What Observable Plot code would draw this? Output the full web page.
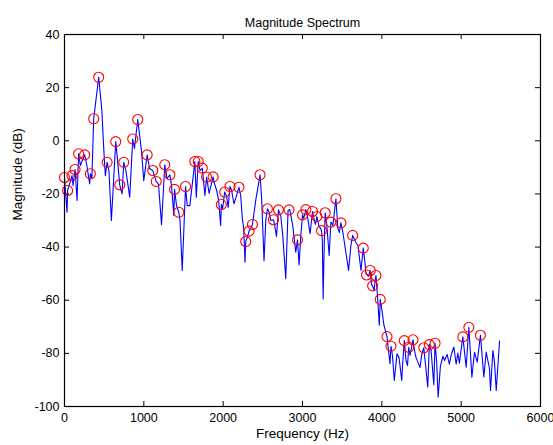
<!DOCTYPE html>
<html>
<head>
<meta charset="utf-8">
<script src="https://cdn.jsdelivr.net/npm/d3@7"></script>
<script src="https://cdn.jsdelivr.net/npm/@observablehq/plot@0.6"></script>
<style>
  html, body { margin: 0; padding: 0; background: #ffffff; }
</style>
</head>
<body>
<div id="chart"></div>
<script>
// Spectrum line: frequency (Hz) and magnitude (dB)
const freq = [0,32,39,95,107,133,158,178,200,254,282,317,326,345,368,431,471,496,515,537,560,591,646,663,696,726,747,774,822,860,882,923,970,999,1042,1071,1113,1156,1185,1223,1264,1292,1328,1349,1378,1387,1412,1441,1456,1484,1526,1547,1580,1643,1661,1686,1709,1737,1770,1791,1823,1873,1886,1918,1943,1968,1977,1993,2019,2044,2063,2086,2107,2136,2158,2199,2221,2242,2259,2275,2284,2309,2326,2347,2369,2410,2465,2486,2515,2537,2558,2581,2600,2634,2650,2672,2697,2726,2751,2789,2818,2840,2877,2915,2937,2957,2979,3000,3016,3042,3061,3080,3096,3126,3143,3162,3181,3206,3240,3250,3260,3275,3286,3307,3336,3358,3383,3421,3446,3465,3484,3509,3581,3610,3632,3673,3699,3737,3766,3787,3800,3831,3854,3869,3884,3901,3926,3945,3968,3980,4002,4027,4065,4084,4103,4115,4134,4157,4191,4217,4251,4261,4283,4305,4324,4339,4355,4393,4412,4431,4456,4482,4501,4529,4545,4579,4599,4621,4655,4671,4690,4710,4738,4769,4791,4823,4852,4873,4908,4937,4958,4978,5021,5063,5097,5135,5168,5202,5243,5286,5315,5357,5370,5400,5420,5442,5484];
const magnitude = [-13.8,-26.9,-18.7,-13.1,-16.8,-10.8,-22.5,-4.9,-9.3,-5.3,-9.3,-16.2,-12.4,-14.2,8.3,23.9,11.4,-3.7,-13.1,-8.1,-11.2,-30.0,-0.3,-5.5,-16.6,-20.0,-8.1,-11.2,-21.2,0.7,-2.9,8.0,-3.7,-15.0,-5.3,-10.4,-11.2,-15.3,-16.4,-31.6,-9.0,-14.2,-12.8,-16.8,-28.1,-18.3,-24.4,-26.9,-30.0,-48.8,-17.2,-24.4,-24.4,-7.8,-21.2,-7.8,-11.2,-10.3,-20.6,-13.7,-19.8,-13.6,-15.7,-18.7,-22.5,-31.9,-24.0,-25.5,-19.3,-21.0,-25.1,-17.2,-18.7,-23.7,-21.7,-17.5,-20.6,-29.4,-33.0,-45.7,-37.9,-36.0,-34.0,-33.0,-31.5,-22.5,-12.8,-22.5,-45.1,-30.0,-25.6,-27.0,-30.0,-29.7,-31.9,-36.0,-26.0,-28.1,-35.6,-51.9,-26.2,-25.9,-31.9,-41.9,-37.3,-46.7,-35.6,-27.9,-29.2,-25.9,-28.1,-31.9,-35.0,-26.6,-29.2,-31.5,-28.5,-31.9,-33.8,-37.5,-59.5,-37.5,-27.1,-31.9,-43.2,-30.6,-31.9,-21.8,-33.0,-34.5,-30.9,-34.5,-48.8,-39.4,-35.6,-38.3,-39.4,-48.8,-40.4,-45.8,-49.9,-51.0,-48.8,-54.1,-54.6,-56.3,-50.7,-58.2,-69.4,-59.7,-63.9,-69.5,-73.7,-78.9,-83.9,-77.3,-80.8,-90.2,-80.2,-81.6,-90.2,-84.6,-75.2,-82.7,-84.6,-77.7,-80.8,-74.9,-78.9,-81.6,-83.4,-85.3,-80.8,-77.9,-82.7,-92.7,-76.7,-78.9,-91.8,-76.2,-82.7,-96.5,-84.9,-81.1,-82.7,-80.4,-84.1,-80.7,-77.6,-84.1,-79.9,-83.7,-73.8,-85.2,-70.2,-89.0,-79.6,-83.3,-73.2,-88.9,-79.5,-85.7,-94.0,-78.9,-83.3,-94.0,-75.4];

// Detected peaks (red circles)
const peakFreq = [0,39,95,133,178,254,326,368,431,537,646,696,747,860,923,1042,1113,1156,1264,1328,1387,1441,1526,1643,1686,1737,1791,1873,1977,2019,2086,2199,2284,2326,2369,2465,2558,2634,2697,2830,2937,3000,3042,3126,3181,3240,3286,3358,3421,3484,3632,3766,3807,3854,3884,3926,3980,4065,4115,4283,4339,4393,4529,4599,4671,5021,5097,5243];
const peakMag = [-13.8,-18.7,-13.1,-10.8,-4.9,-5.3,-12.4,8.3,23.9,-8.1,-0.3,-16.6,-8.1,0.7,8.0,-5.3,-11.2,-15.3,-9.0,-12.8,-18.3,-26.9,-17.2,-7.8,-7.8,-10.3,-13.7,-13.6,-24.0,-19.3,-17.2,-17.5,-37.9,-34.0,-31.5,-12.8,-25.6,-29.7,-26.0,-26.0,-37.3,-27.9,-25.9,-26.6,-28.5,-33.8,-27.1,-30.6,-21.8,-30.9,-35.6,-40.4,-50.5,-48.8,-54.6,-50.7,-59.7,-73.7,-77.3,-75.2,-77.7,-74.9,-77.9,-76.7,-76.2,-73.8,-70.2,-73.2];

const xTicks = [0,1000,2000,3000,4000,5000,6000];
const yTicks = [-100,-80,-60,-40,-20,0,20,40];
const titleText = "Magnitude Spectrum";
const xLabel = "Frequency (Hz)";
const yLabel = "Magnitude (dB)";

const spectrum = freq.map((f, i) => ({f, m: magnitude[i]}));
const peaks = peakFreq.map((f, i) => ({f, m: peakMag[i]}));

const W = 553, H = 445;
const mL = 64, mR = 13, mT = 34, mB = 39;
const xDom = [0, 6000], yDom = [-100, 40];
const tickPx = 5;
const tickY = tickPx * (yDom[1] - yDom[0]) / (H - mT - mB);
const tickX = tickPx * (xDom[1] - xDom[0]) / (W - mL - mR);
const font = "'Liberation Sans', Arial, Helvetica, sans-serif";

const chart = Plot.plot({
  width: W, height: H,
  marginLeft: mL, marginRight: mR, marginTop: mT, marginBottom: mB,
  x: {domain: xDom, label: null},
  y: {domain: yDom, label: null},
  style: {fontFamily: font, fontSize: "12.5px", background: "#ffffff", color: "#000000"},
  marks: [
    Plot.axisX({ticks: xTicks, tickSize: 0, tickPadding: 7, tickFormat: d => String(d), fontSize: 12.5, fill: "#000"}),
    Plot.axisY({ticks: yTicks, tickSize: 0, tickPadding: 5, tickFormat: d => String(d), fontSize: 12.5, fill: "#000"}),
    Plot.ruleX(xTicks, {x: d => d, y1: yDom[0], y2: yDom[0] + tickY, stroke: "#000"}),
    Plot.ruleX(xTicks, {x: d => d, y1: yDom[1], y2: yDom[1] - tickY, stroke: "#000"}),
    Plot.ruleY(yTicks, {y: d => d, x1: xDom[0], x2: xDom[0] + tickX, stroke: "#000"}),
    Plot.ruleY(yTicks, {y: d => d, x1: xDom[1], x2: xDom[1] - tickX, stroke: "#000"}),
    Plot.line(spectrum, {x: "f", y: "m", stroke: "#0000ff", strokeWidth: 1.1}),
    Plot.dot(peaks, {x: "f", y: "m", r: 5, stroke: "#ff0000", strokeWidth: 1.1, fill: "none"}),
    Plot.frame({stroke: "#000", strokeWidth: 1.2}),
    Plot.text([titleText], {text: d => d, frameAnchor: "top", dy: -16, fontSize: 12.5, fill: "#000"}),
    Plot.text([xLabel], {text: d => d, frameAnchor: "bottom", dy: 31, fontSize: 13.5, fill: "#000"}),
    Plot.text([yLabel], {text: d => d, frameAnchor: "left", dx: -47, rotate: -90, fontSize: 13.5, fill: "#000"})
  ]
});
document.getElementById("chart").appendChild(chart);
</script>
</body>
</html>
